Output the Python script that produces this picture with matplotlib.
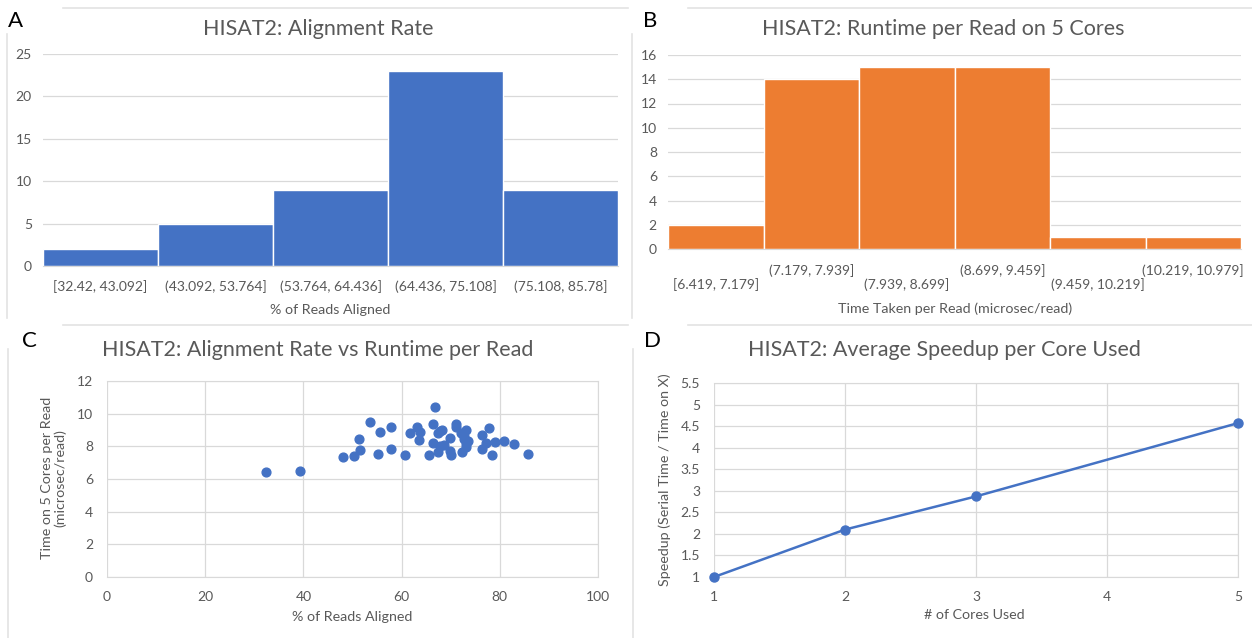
import numpy as np
import matplotlib
matplotlib.use('Agg')
import matplotlib.pyplot as plt
from matplotlib.lines import Line2D

plt.rcParams['font.family'] = ['Lato', 'DejaVu Sans']

# panel A: histogram of alignment rate
align_bins = ['[32.42, 43.092]', '(43.092, 53.764]', '(53.764, 64.436]',
              '(64.436, 75.108]', '(75.108, 85.78]']
align_counts = [2, 5, 9, 23, 9]

# panel B: histogram of runtime per read
time_bins = ['[6.419, 7.179]', '(7.179, 7.939]', '(7.939, 8.699]',
             '(8.699, 9.459]', '(9.459, 10.219]', '(10.219, 10.979]']
time_counts = [2, 14, 15, 15, 1, 1]

# panel C: alignment rate vs runtime
rate = [32.42, 39.3, 48.0, 50.4, 51.5, 51.4, 53.5, 55.5, 55.2, 57.9, 57.9, 60.7,
        61.8, 63.2, 63.7, 63.6, 65.6, 66.4, 66.8, 66.3, 67.4, 67.9, 67.5, 67.9,
        69.8, 69.9, 70.1, 71.0, 71.1, 72.1, 72.4, 73.2, 72.8, 73.2, 73.2, 76.4,
        76.3, 77.1, 77.7, 78.5, 79.1, 80.9, 82.8, 85.78, 68.6, 72.8, 73.6, 68.3]
runtime = [6.44, 6.52, 7.32, 7.40, 7.76, 8.46, 9.48, 8.88, 7.56, 9.16, 7.86, 7.50,
           8.80, 9.20, 8.86, 8.40, 7.44, 9.36, 10.38, 8.22, 8.82, 8.94, 7.68, 8.04,
           8.54, 7.70, 7.50, 9.36, 9.16, 8.80, 7.64, 9.00, 8.46, 8.16, 7.96, 8.70,
           7.84, 8.20, 9.14, 7.48, 8.26, 8.30, 8.16, 7.54, 8.08, 8.62, 8.30, 9.00]

# panel D: speedup
cores = [1, 2, 3, 5]
speedup = [1.0, 2.1, 2.87, 4.57]

BLUE = '#4472C4'
ORANGE = '#ED7D31'
GRID = '#D9D9D9'
TXT = '#595959'
W, H = 1252, 638
TITLE_FS = 15.5
TICK_FS = 10
LABEL_FS = 10.3

fig = plt.figure(figsize=(W / 100, H / 100), dpi=100)


def ax_px(l, t, r, b):
    return fig.add_axes([l / W, 1 - b / H, (r - l) / W, (b - t) / H])


def fig_line(x0, y0, x1, y1):
    fig.add_artist(Line2D([x0 / W, x1 / W], [1 - y0 / H, 1 - y1 / H],
                          color='#E3E3E3', lw=1.2, transform=fig.transFigure))


def ftext(x, y, s, **kw):
    fig.text(x / W, 1 - y / H, s, ha='center', va='center', **kw)


def style(ax, xgrid=False, ypad=8):
    ax.set_facecolor('white')
    ax.tick_params(length=0, colors=TXT, labelsize=TICK_FS)
    ax.tick_params(axis='y', pad=ypad)
    ax.grid(axis='y', color=GRID, lw=0.9)
    if xgrid:
        ax.grid(axis='x', color=GRID, lw=0.9)
    ax.set_axisbelow(True)
    for k, sp in ax.spines.items():
        sp.set_visible(False)
    ax.spines['bottom'].set_visible(True)
    ax.spines['bottom'].set_color(GRID)


# frame lines of the pasted charts
fig_line(63, 8, 628, 8)
fig_line(7, 34, 7, 318)
fig_line(688, 8, 1252, 8)
fig_line(632, 34, 632, 318)
fig_line(63, 325, 628, 325)
fig_line(8, 349, 8, 638)
fig_line(688, 325, 1252, 325)
fig_line(633, 349, 633, 638)

# A
ax = ax_px(43, 54, 618, 266)
ax.bar(np.arange(len(align_counts)), align_counts, width=1.0, color=BLUE,
       edgecolor='white', lw=1)
ax.set_xlim(-0.5, len(align_counts) - 0.5)
ax.set_ylim(0, 25)
ax.set_yticks(range(0, 26, 5))
ax.set_xticks(np.arange(len(align_bins)))
ax.set_xticklabels(align_bins)
style(ax, ypad=8)
ax.tick_params(axis='x', pad=10)
ftext(318, 29, 'HISAT2: Alignment Rate', color=TXT, fontsize=TITLE_FS)
ftext(330, 310, '% of Reads Aligned', color=TXT, fontsize=LABEL_FS)
ftext(15, 21, 'A', color='black', fontsize=16)

# B
ax = ax_px(668, 55, 1241, 249)
ax.bar(np.arange(len(time_counts)), time_counts, width=1.0, color=ORANGE,
       edgecolor='white', lw=1)
ax.set_xlim(-0.5, len(time_counts) - 0.5)
ax.set_ylim(0, 16)
ax.set_yticks(range(0, 17, 2))
ax.set_xticks(np.arange(len(time_bins)))
ax.set_xticklabels([('\n' + s) if i % 2 == 0 else s for i, s in enumerate(time_bins)],
                   linespacing=1.15)
style(ax, ypad=8)
ax.tick_params(axis='x', pad=11)
ftext(943, 29, 'HISAT2: Runtime per Read on 5 Cores', color=TXT, fontsize=TITLE_FS)
ftext(955, 309, 'Time Taken per Read (microsec/read)', color=TXT, fontsize=LABEL_FS)
ftext(650, 21, 'B', color='black', fontsize=16)

# C
ax = ax_px(107, 381, 598, 577)
ax.scatter(rate, runtime, s=40, color=BLUE, zorder=3, clip_on=False)
ax.set_xlim(0, 100)
ax.set_ylim(0, 12)
ax.set_xticks(range(0, 101, 20))
ax.set_yticks(range(0, 13, 2))
style(ax, xgrid=True, ypad=10)
ax.tick_params(axis='x', pad=10)
ax.spines['top'].set_visible(True)
ax.spines['top'].set_color(GRID)
ax.spines['right'].set_visible(True)
ax.spines['right'].set_color(GRID)
ftext(318, 350, 'HISAT2: Alignment Rate vs Runtime per Read', color=TXT, fontsize=TITLE_FS)
ftext(352, 617, '% of Reads Aligned', color=TXT, fontsize=LABEL_FS)
ftext(54, 478, 'Time on 5 Cores per Read\n(microsec/read)', color=TXT,
      fontsize=LABEL_FS, rotation=90, linespacing=1.1)
ftext(29, 341, 'C', color='black', fontsize=16)

# D
ax = ax_px(714, 383, 1238, 577)
ax.plot(cores, speedup, color=BLUE, lw=1.8, marker='o', ms=6.5, clip_on=False, zorder=3)
ax.set_xlim(1, 5)
ax.set_ylim(1, 5.5)
ax.set_xticks(range(1, 6))
ax.set_yticks(np.arange(1, 5.51, 0.5))
ax.set_yticklabels(['%g' % v for v in np.arange(1, 5.51, 0.5)])
style(ax, xgrid=True, ypad=10)
ax.tick_params(axis='x', pad=10)
ax.spines['top'].set_visible(True)
ax.spines['top'].set_color(GRID)
ax.spines['right'].set_visible(True)
ax.spines['right'].set_color(GRID)
ftext(944, 350, 'HISAT2: Average Speedup per Core Used', color=TXT, fontsize=TITLE_FS)
ftext(974, 615, '# of Cores Used', color=TXT, fontsize=LABEL_FS)
ftext(665, 480, 'Speedup (Serial Time / Time on X)', color=TXT, fontsize=LABEL_FS, rotation=90)
ftext(652, 341, 'D', color='black', fontsize=16)

fig.savefig('out.png', dpi=100, facecolor='white')
